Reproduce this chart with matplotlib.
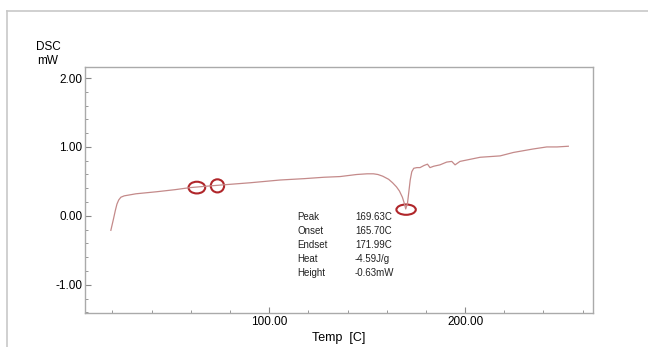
import matplotlib.pyplot as plt
from matplotlib.patches import Ellipse
from matplotlib.lines import Line2D
from matplotlib.ticker import MultipleLocator

plt.rcParams['font.family'] = ['Liberation Sans', 'DejaVu Sans']

# DSC curve
temp = [19.2, 20.5, 21.5, 22.3, 23.2, 24.3, 26.0, 32.0, 42.7, 52.0, 59.7, 68.0, 76.7,
        90.3, 105.6, 118.0, 128.0, 136.2, 144.7, 150.0, 153.2, 155.5, 158.0, 161.0,
        163.0, 165.0, 166.5, 168.0, 169.0, 169.7, 170.6, 171.3, 172.0, 172.8, 173.8,
        175.4, 177.0, 179.0, 180.8, 182.1, 184.0, 187.2, 190.6, 193.2, 194.9, 197.4,
        207.7, 217.9, 224.7, 234.7, 241.7, 247.0, 252.7]
dsc = [-0.21, -0.05, 0.08, 0.17, 0.23, 0.27, 0.29, 0.32, 0.35, 0.38, 0.41, 0.43, 0.45,
       0.48, 0.52, 0.54, 0.56, 0.57, 0.60, 0.61, 0.61, 0.60, 0.575, 0.53,
       0.48, 0.42, 0.36, 0.27, 0.18, 0.10, 0.18, 0.35, 0.52, 0.64, 0.69,
       0.70, 0.70, 0.73, 0.75, 0.70, 0.72, 0.74, 0.78, 0.79, 0.74, 0.79,
       0.85, 0.87, 0.92, 0.97, 1.00, 1.00, 1.01]

# red marker ellipses: centre T, centre value, width, height
circ_t = [63.1, 73.6, 169.9]
circ_v = [0.41, 0.435, 0.09]
circ_w = [8.5, 6.8, 9.9]
circ_h = [0.17, 0.19, 0.15]

info_names = ['Peak', 'Onset', 'Endset', 'Heat', 'Height']
info_vals = ['169.63C', '165.70C', '171.99C', '-4.59J/g', '-0.63mW']

fig = plt.figure(figsize=(6.48, 3.47), dpi=100)
W, H = 648, 347
ax = fig.add_axes([85 / W, 1 - 313 / H, (593 - 85) / W, (313 - 67) / H])

ax.plot(temp, dsc, color='#c48a8a', lw=0.9)
for t, v, w, h in zip(circ_t, circ_v, circ_w, circ_h):
    ax.add_patch(Ellipse((t, v), w, h, fill=False, edgecolor='#b0262a', lw=1.5))

ax.set_xlim(6, 265.3)
ax.set_ylim(-1.41, 2.16)
ax.set_xticks([100, 200])
ax.set_xticklabels(['100.00', '200.00'])
ax.set_yticks([-1, 0, 1, 2])
ax.set_yticklabels(['-1.00', '0.00', '1.00', '2.00'])
ax.xaxis.set_minor_locator(MultipleLocator(20))
ax.yaxis.set_minor_locator(MultipleLocator(0.2))
ax.tick_params(which='both', direction='in', color='#888888', labelsize=8.5, pad=2)
ax.tick_params(which='major', length=4)
ax.tick_params(which='minor', length=2.5)
for s in ax.spines.values():
    s.set_color('#aaaaaa')
    s.set_linewidth(1.0)

ax.set_xlabel('Temp  [C]', fontsize=9, labelpad=3)
fig.text(48 / W, 1 - 47 / H, 'DSC', fontsize=8.5, ha='center', va='center')
fig.text(48 / W, 1 - 61 / H, 'mW', fontsize=8.5, ha='center', va='center')

for i, (n, v) in enumerate(zip(info_names, info_vals)):
    y = 1 - (217 + 14 * i) / H
    fig.text(297 / W, y, n, fontsize=7, va='center', color='#222222')
    fig.text(355 / W, y, v, fontsize=7, va='center', color='#222222')

# outer frame
fig.add_artist(Line2D([7 / W, 1], [1 - 11 / H, 1 - 11 / H], color='#c8c8c8', lw=1.2))
fig.add_artist(Line2D([7 / W, 7 / W], [0, 1 - 11 / H], color='#c8c8c8', lw=1.2))

fig.savefig('out.png', dpi=100)
